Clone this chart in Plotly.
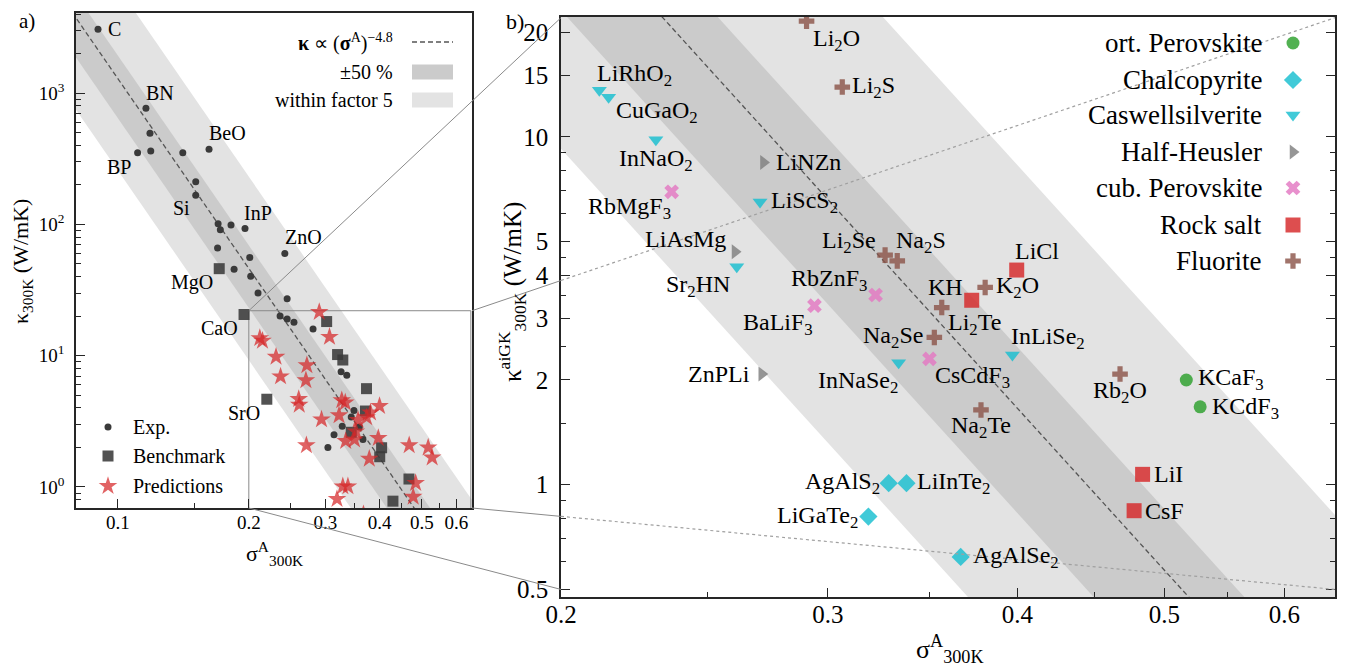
import re
import numpy as np
import plotly.graph_objects as go

SCREEN_W, SCREEN_H = 1349, 671
OFF = 8                       # page body margin of the browser
W, H = SCREEN_W - OFF, SCREEN_H - OFF

# ---------------------------------------------------------------- data
# panel a) experimental reference values
exp_sigma = [0.090, 0.116, 0.1185, 0.111, 0.119, 0.141, 0.162, 0.151, 0.151, 0.170,
             0.182, 0.196, 0.172, 0.1695, 0.201, 0.242, 0.185, 0.202, 0.210, 0.245,
             0.236, 0.245, 0.254, 0.281, 0.326, 0.336, 0.349, 0.344, 0.328, 0.314,
             0.359, 0.366, 0.304]
exp_kappa = [3060, 766, 494, 352, 362, 352, 373, 211, 167, 101,
             99, 93, 91, 66, 56, 60, 45.5, 40.3, 30.0, 27.2,
             20.1, 19.0, 18.0, 16.0, 7.55, 7.09, 3.82, 3.41, 2.90, 2.50,
             2.86, 2.30, 2.0]
bench_sigma = [0.171, 0.195, 0.220, 0.302, 0.320, 0.329, 0.373, 0.371, 0.344,
               0.404, 0.400, 0.467, 0.429]
bench_kappa = [46.0, 20.6, 4.66, 18.2, 10.2, 9.27, 5.61, 3.79, 2.61,
               1.99, 1.70, 1.15, 0.78]
left_label_text = ["C", "BN", "BeO", "BP", "Si", "InP", "ZnO", "MgO", "CaO", "SrO"]

# panel b) predictions by structure type
ort_names = ["KCaF3", "KCdF3"]
ort_sigma = [0.517, 0.528]
ort_kappa = [2.00, 1.675]

chalco_names = ["AgAlS2", "LiInTe2", "LiGaTe2", "AgAlSe2"]
chalco_sigma = [0.329, 0.338, 0.319, 0.367]
chalco_kappa = [1.01, 1.01, 0.81, 0.62]

casw_names = ["LiRhO2", "CuGaO2", "InNaO2", "LiScS2", "Sr2HN", "InNaSe2", "InLiSe2"]
casw_sigma = [0.212, 0.215, 0.231, 0.2706, 0.2612, 0.334, 0.397]
casw_kappa = [13.6, 13.0, 9.8, 6.5, 4.23, 2.24, 2.36]

hh_names = ["LiNZn", "LiAsMg", "ZnPLi"]
hh_sigma = [0.272, 0.2605, 0.2713]
hh_kappa = [8.44, 4.67, 2.08]

cub_names = ["RbMgF3", "RbZnF3", "BaLiF3", "CsCdF3"]
cub_sigma = [0.2366, 0.3225, 0.2939, 0.350]
cub_kappa = [6.95, 3.51, 3.27, 2.30]

rock_names = ["LiCl", "KH", "LiI", "CsF"]
rock_sigma = [0.3996, 0.3732, 0.4838, 0.4776]
rock_kappa = [4.14, 3.39, 1.071, 0.842]

fluor_names = ["Li2O", "Li2S", "Li2Se", "Na2S", "K2O", "Li2Te", "Na2Se", "Rb2O", "Na2Te"]
fluor_sigma = [0.2904, 0.3066, 0.3272, 0.3333, 0.3809, 0.3566, 0.3526, 0.4675, 0.3785]
fluor_kappa = [21.5, 13.9, 4.57, 4.40, 3.69, 3.23, 2.65, 2.08, 1.64]

groups = ["ort. Perovskite", "Chalcopyrite", "Caswellsilverite", "Half-Heusler",
          "cub. Perovskite", "Rock salt", "Fluorite"]
group_data = {
    "ort. Perovskite": (ort_names, ort_sigma, ort_kappa),
    "Chalcopyrite": (chalco_names, chalco_sigma, chalco_kappa),
    "Caswellsilverite": (casw_names, casw_sigma, casw_kappa),
    "Half-Heusler": (hh_names, hh_sigma, hh_kappa),
    "cub. Perovskite": (cub_names, cub_sigma, cub_kappa),
    "Rock salt": (rock_names, rock_sigma, rock_kappa),
    "Fluorite": (fluor_names, fluor_sigma, fluor_kappa),
}

# power law kappa = PREF * sigma^EXPO
PREF = 0.0204
EXPO = -4.8

# zoomed region shown in panel b
ZOOM_S = [0.2, 0.648]
ZOOM_K = [0.5, 22.0]

# ---------------------------------------------------------------- styles / layout
FONT = "Liberation Serif"
group_style = {
    "ort. Perovskite": dict(symbol="circle", color="#2ca02c", size=13),
    "Chalcopyrite": dict(symbol="diamond", color="#17becf", size=14),
    "Caswellsilverite": dict(symbol="triangle-down", color="#17becf", size=13),
    "Half-Heusler": dict(symbol="triangle-right", color="#7f7f7f", size=13),
    "cub. Perovskite": dict(symbol="x", color="#e377c2", size=13),
    "Rock salt": dict(symbol="square", color="#d62728", size=15),
    "Fluorite": dict(symbol="cross", color="#8c564b", size=13),
}
# label placement: (xanchor, dx px, dy px downward)
label_place = {
    "Li2O": ("left", 5, 19), "Li2S": ("left", 9, 0), "LiRhO2": ("left", -3, -15),
    "CuGaO2": ("left", 6, 15), "InNaO2": ("center", 0, 20), "LiNZn": ("left", 12, 0),
    "RbMgF3": ("right", 0, 16), "LiScS2": ("left", 10, 0), "LiAsMg": ("right", -8, -13),
    "Sr2HN": ("right", -6, 19), "Li2Se": ("right", -8, -13), "Na2S": ("left", -2, -19),
    "RbZnF3": ("right", -8, -15), "BaLiF3": ("right", 0, 18), "KH": ("right", -8, -13),
    "K2O": ("left", 10, 0), "LiCl": ("left", -3, -19), "Li2Te": ("left", 5, 16),
    "Na2Se": ("right", -10, 0), "InNaSe2": ("right", 0, 19), "CsCdF3": ("left", 5, 18),
    "InLiSe2": ("left", -2, -17), "ZnPLi": ("right", -11, 0), "Rb2O": ("center", 0, 18),
    "KCaF3": ("left", 11, -1), "KCdF3": ("left", 11, 1), "Na2Te": ("center", 0, 17),
    "LiI": ("left", 10, 0), "CsF": ("left", 10, 0), "AgAlS2": ("right", -8, 0),
    "LiInTe2": ("left", 10, 0), "LiGaTe2": ("right", -9, 0), "AgAlSe2": ("left", 11, 0),
}
left_label_pos = [(0.0984, 3076), (0.1252, 1010), (0.179, 497), (0.1008, 273.5),
                  (0.1403, 133), (0.2098, 122), (0.2676, 80.2), (0.1479, 36.1),
                  (0.1710, 16.2), (0.1949, 3.69)]

# axes boxes in screen pixels
LBOX = dict(x0=76, x1=472, y0=13, y1=508)
RBOX = dict(x0=561, x1=1335, y0=17, y1=597)
L_XR = [np.log10(0.0801), np.log10(0.652)]
L_YR = [-0.16, 3.61]
R_XR = [np.log10(0.2), np.log10(0.648)]
R_YR = [np.log10(0.4756), np.log10(22.1)]


def dom(box):
    return ([(box["x0"] - OFF) / W, (box["x1"] - OFF) / W],
            [1 - (box["y1"] - OFF) / H, 1 - (box["y0"] - OFF) / H])


def to_px(box, xr, yr, s, k):
    x = box["x0"] + (np.log10(s) - xr[0]) / (xr[1] - xr[0]) * (box["x1"] - box["x0"])
    y = box["y1"] - (np.log10(k) - yr[0]) / (yr[1] - yr[0]) * (box["y1"] - box["y0"])
    return x, y


def sub(name):
    return re.sub(r"(\d)", r"<sub>\1</sub>", name)


fig = go.Figure()


def add_bands(xa, ya):
    s = np.array([0.03, 1.5])
    for lo, hi, col in [(0.2, 5.0, "#e3e3e3"), (0.5, 1.5, "#cbcbcb")]:
        xs = np.concatenate([s, s[::-1], s[:1]])
        ys = np.concatenate([hi * PREF * s ** EXPO, lo * PREF * s[::-1] ** EXPO,
                             [hi * PREF * s[0] ** EXPO]])
        fig.add_trace(go.Scatter(x=xs, y=ys, mode="lines", fill="toself", fillcolor=col,
                                 line=dict(width=0), xaxis=xa, yaxis=ya,
                                 hoverinfo="skip", showlegend=False))
    fig.add_trace(go.Scatter(x=s, y=PREF * s ** EXPO, mode="lines",
                             line=dict(color="#555555", width=1.3, dash="5px,3px"),
                             xaxis=xa, yaxis=ya, hoverinfo="skip", showlegend=False))


# ---------------- panel a
add_bands("x", "y")
zs0, zs1 = ZOOM_S
zk0, zk1 = ZOOM_K
fig.add_trace(go.Scatter(x=[zs0, zs0, zs1, zs1, zs0], y=[zk0, zk1, zk1, zk0, zk0],
                         mode="lines", line=dict(color="#8a8a8a", width=1),
                         xaxis="x", yaxis="y", hoverinfo="skip", showlegend=False))
fig.add_trace(go.Scatter(x=exp_sigma, y=exp_kappa, mode="markers",
                         marker=dict(symbol="circle", size=7, color="#3a3a3a"),
                         xaxis="x", yaxis="y", showlegend=False))
fig.add_trace(go.Scatter(x=bench_sigma, y=bench_kappa, mode="markers",
                         marker=dict(symbol="square", size=11, color="#3a3a3a", opacity=0.88),
                         xaxis="x", yaxis="y", showlegend=False))
pred_sigma = sum([list(group_data[g][1]) for g in groups], [])
pred_kappa = sum([list(group_data[g][2]) for g in groups], [])
fig.add_trace(go.Scatter(x=pred_sigma, y=pred_kappa, mode="markers",
                         marker=dict(symbol="star", size=14, color="#d62728", opacity=0.72,
                                     line=dict(width=0)),
                         xaxis="x", yaxis="y", showlegend=False))

annotations = []
for txt, (s, k) in zip(left_label_text, left_label_pos):
    annotations.append(dict(x=np.log10(s), y=np.log10(k), xref="x", yref="y", text=txt,
                            showarrow=False, xanchor="center", yanchor="middle",
                            font=dict(size=20, family=FONT, color="black")))

# ---------------- panel b
add_bands("x2", "y2")
for g in groups:
    names, sig, kap = group_data[g]
    st = group_style[g]
    fig.add_trace(go.Scatter(x=sig, y=kap, mode="markers", name=g,
                             marker=dict(symbol=st["symbol"], size=st["size"], color=st["color"],
                                         opacity=0.82, line=dict(width=0)),
                             xaxis="x2", yaxis="y2", showlegend=False))
    for n, s, k in zip(names, sig, kap):
        xa, dx, dy = label_place[n]
        annotations.append(dict(x=np.log10(s), y=np.log10(k), xref="x2", yref="y2",
                                text=sub(n), showarrow=False, xanchor=xa, yanchor="middle",
                                xshift=dx, yshift=-dy, borderpad=0,
                                font=dict(size=24, family=FONT, color="black")))

# ---------------- connectors & custom legends on a full-figure pixel axis
lp_top = to_px(LBOX, L_XR, L_YR, zs0, zk1)
lp_bot = (lp_top[0], LBOX["y1"])
lr_top = (LBOX["x1"], lp_top[1])
lr_bot = (LBOX["x1"], LBOX["y1"])
r_tl = to_px(RBOX, R_XR, R_YR, zs0, zk1)
r_bl = to_px(RBOX, R_XR, R_YR, zs0, zk0)
r_tr = (RBOX["x1"], r_tl[1])
r_br = (RBOX["x1"], r_bl[1])
for a, b in [(lp_top, r_tl), (lp_bot, r_bl)]:
    fig.add_trace(go.Scatter(x=[a[0], b[0]], y=[a[1], b[1]], mode="lines",
                             line=dict(color="#8a8a8a", width=1), xaxis="x3", yaxis="y3",
                             hoverinfo="skip", showlegend=False))
for a, b in [(lr_top, r_tr), (lr_bot, r_br)]:
    t = (RBOX["x0"] - a[0]) / (b[0] - a[0])
    m = (RBOX["x0"], a[1] + t * (b[1] - a[1]))
    fig.add_trace(go.Scatter(x=[a[0], m[0]], y=[a[1], m[1]], mode="lines",
                             line=dict(color="#8a8a8a", width=1), xaxis="x3", yaxis="y3",
                             hoverinfo="skip", showlegend=False))
    fig.add_trace(go.Scatter(x=[m[0], b[0]], y=[m[1], b[1]], mode="lines",
                             line=dict(color="#a0a0a0", width=1.2, dash="dot"),
                             xaxis="x3", yaxis="y3", hoverinfo="skip", showlegend=False))

shapes = []
# left-top legend
LEG_TX, LEG_P0, LEG_P1 = 395, 412, 453
leg_a = [("<b>κ</b> ∝ (<b>σ</b><sup>A</sup>)<sup>−4.8</sup>", 42),
         ("±50 %", 72), ("within factor 5", 100)]
for txt, yy in leg_a:
    annotations.append(dict(x=LEG_TX, y=yy, xref="x3", yref="y3", text=txt, showarrow=False,
                            xanchor="right", yanchor="middle",
                            font=dict(size=20, family=FONT, color="black")))
fig.add_trace(go.Scatter(x=[LEG_P0, LEG_P1], y=[42, 42], mode="lines",
                         line=dict(color="#555555", width=1.3, dash="5px,3px"),
                         xaxis="x3", yaxis="y3", hoverinfo="skip", showlegend=False))
shapes.append(dict(type="rect", xref="x3", yref="y3", x0=LEG_P0, x1=LEG_P1, y0=64.5, y1=79.5,
                   fillcolor="#cbcbcb", line=dict(width=0)))
shapes.append(dict(type="rect", xref="x3", yref="y3", x0=LEG_P0, x1=LEG_P1, y0=92.5, y1=107.5,
                   fillcolor="#e3e3e3", line=dict(width=0)))

# left-bottom legend
leg_b = [("Exp.", 427, dict(symbol="circle", size=7, color="#3a3a3a")),
         ("Benchmark", 456, dict(symbol="square", size=11, color="#3a3a3a", opacity=0.88)),
         ("Predictions", 486, dict(symbol="star", size=14, color="#d62728", opacity=0.72))]
for txt, yy, mk in leg_b:
    fig.add_trace(go.Scatter(x=[108], y=[yy], mode="markers", marker=mk, xaxis="x3", yaxis="y3",
                             hoverinfo="skip", showlegend=False))
    annotations.append(dict(x=131, y=yy, xref="x3", yref="y3", text=txt, showarrow=False,
                            xanchor="left", yanchor="middle",
                            font=dict(size=20, family=FONT, color="black")))

# right legend
leg_r_y = [43, 80, 115, 152, 188, 225, 261]
for g, yy in zip(groups, leg_r_y):
    st = group_style[g]
    fig.add_trace(go.Scatter(x=[1293], y=[yy], mode="markers",
                             marker=dict(symbol=st["symbol"], size=st["size"], color=st["color"],
                                         opacity=0.82, line=dict(width=0)),
                             xaxis="x3", yaxis="y3", hoverinfo="skip", showlegend=False))
    annotations.append(dict(x=1264, y=yy, xref="x3", yref="y3", text=g, showarrow=False,
                            xanchor="right", yanchor="middle",
                            font=dict(size=27, family=FONT, color="black")))

# panel letters and axis titles
annotations += [
    dict(x=27, y=21, xref="x3", yref="y3", text="a)", showarrow=False, borderpad=0,
         font=dict(size=21, family=FONT, color="black")),
    dict(x=515, y=21, xref="x3", yref="y3", text="b)", showarrow=False, borderpad=0,
         font=dict(size=22, family=FONT, color="black")),
    dict(x=22, y=262, xref="x3", yref="y3", text="κ<sub>300K</sub> (W/mK)", showarrow=False,
         textangle=-90, font=dict(size=22, family=FONT, color="black")),
    dict(x=274, y=553, xref="x3", yref="y3", text="σ<sup>A</sup><sub>300K</sub>", showarrow=False,
         font=dict(size=22, family=FONT, color="black")),
    dict(x=512, y=292, xref="x3", yref="y3", text="κ<sup>aiGK</sup><sub>300K</sub> (W/mK)",
         showarrow=False, textangle=-90, font=dict(size=25, family=FONT, color="black")),
    dict(x=950, y=649, xref="x3", yref="y3", text="σ<sup>A</sup><sub>300K</sub>", showarrow=False,
         font=dict(size=26, family=FONT, color="black")),
]

# ---------------- axes
LX, LY = dom(LBOX)
RX, RY = dom(RBOX)
axis_common = dict(showgrid=False, zeroline=False, showline=True, linecolor="#262626",
                   linewidth=1.6, ticks="inside", ticklen=9, tickwidth=1.2, tickcolor="#262626",
                   automargin=False)
minor_common = dict(ticks="inside", ticklen=5, tickwidth=1.0, tickcolor="#262626", showgrid=False)

left_minor_y = [m * 10.0 ** e for e in range(-1, 4) for m in range(2, 10)]
fig.update_layout(
    width=W, height=H, margin=dict(l=0, r=0, t=0, b=0, pad=0), autosize=False,
    paper_bgcolor="white", plot_bgcolor="rgba(0,0,0,0)",
    font=dict(family=FONT, color="black"), showlegend=False,
    xaxis=dict(type="log", domain=LX, range=L_XR, anchor="y", mirror=True,
               tickvals=[0.1, 0.2, 0.3, 0.4, 0.5, 0.6],
               ticktext=["0.1", "0.2", "0.3", "0.4", "0.5", "0.6"],
               tickfont=dict(size=19, family=FONT, color="black"), ticklabelstandoff=-4,
               minor=dict(tickvals=[0.15, 0.25, 0.35, 0.45, 0.55], **minor_common),
               **axis_common),
    yaxis=dict(type="log", domain=LY, range=L_YR, anchor="x", mirror=True,
               tickvals=[1, 10, 100, 1000],
               ticktext=["10<sup>0</sup>", "10<sup>1</sup>", "10<sup>2</sup>", "10<sup>3</sup>"],
               tickfont=dict(size=19, family=FONT, color="black"), ticklabelstandoff=6,
               minor=dict(tickvals=left_minor_y, **minor_common),
               **axis_common),
    xaxis2=dict(type="log", domain=RX, range=R_XR, anchor="y2", mirror=True,
                tickvals=[0.2, 0.3, 0.4, 0.5, 0.6],
                ticktext=["0.2", "0.3", "0.4", "0.5", "0.6"],
                tickfont=dict(size=25, family=FONT, color="black"), ticklabelstandoff=-6,
                minor=dict(tickvals=[0.25, 0.35, 0.45, 0.55], **minor_common),
                **axis_common),
    yaxis2=dict(type="log", domain=RY, range=R_YR, anchor="x2", mirror="allticks",
                tickvals=[0.5, 1, 2, 3, 4, 5, 10, 15, 20],
                ticktext=["0.5", "1", "2", "3", "4", "5", "10", "15", "20"],
                tickfont=dict(size=25, family=FONT, color="black"), ticklabelstandoff=6,
                minor=dict(tickvals=[0.6, 0.7, 0.8, 0.9, 1.5, 2.5, 3.5, 4.5, 6, 7, 8, 9],
                           **minor_common),
                **axis_common),
    # pixel-coordinate helper axes (screen pixels)
    xaxis3=dict(domain=[0, 1], range=[OFF, SCREEN_W], anchor="y3", visible=False,
                fixedrange=True, automargin=False),
    yaxis3=dict(domain=[0, 1], range=[SCREEN_H, OFF], anchor="x3", visible=False,
                fixedrange=True, automargin=False),
    annotations=annotations, shapes=shapes,
)

fig.write_html("out.html")
